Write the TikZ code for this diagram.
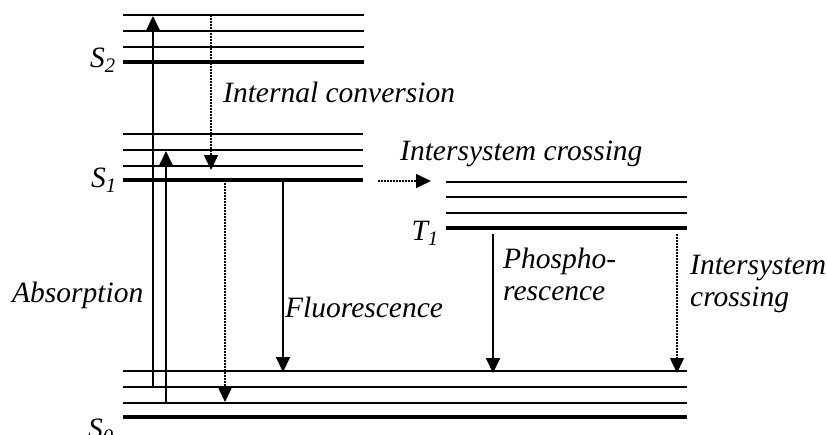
\documentclass[tikz,border=0pt]{standalone}
\usepackage{fontspec}
\setmainfont{Liberation Serif}
\usepackage{tikz}
\usetikzlibrary{arrows.meta, positioning}

\begin{document}
\begin{tikzpicture}[x=1pt, y=-1pt,
    lbl/.style={font=\itshape\fontsize{29.5}{32}\selectfont, inner sep=0pt},
    thinlvl/.style={line width=2pt},
    thicklvl/.style={line width=4pt},
    trans/.style={line width=2pt, -{Triangle[length=15pt, width=14pt]}},
    nonrad/.style={line width=1.5pt, dash pattern=on 1.5pt off 1.5pt, -{Triangle[length=15pt, width=14pt]}}]
    \useasboundingbox (0,0) rectangle (827,434);

    % Energieniveaus
    \foreach \y in {15, 31, 47} \draw[thinlvl] (123,\y) -- (364,\y);
    \draw[thicklvl] (123,62) -- (364,62);
    \foreach \y in {134, 150, 166} \draw[thinlvl] (123,\y) -- (363,\y);
    \draw[thicklvl] (123,180) -- (363,180);
    \foreach \y in {182, 197, 213} \draw[thinlvl] (446,\y) -- (687,\y);
    \draw[thicklvl] (446,228) -- (687,228);
    \foreach \y in {371, 387, 403} \draw[thinlvl] (123,\y) -- (687,\y);
    \draw[thicklvl] (123,417) -- (687,417);

    % Zustaende
    \node[lbl, anchor=base east] (sTwo) at (116,67) {S\textsubscript{2}};
    \node[lbl, anchor=base east] (sOne) at (117,187) {S\textsubscript{1}};
    \node[lbl, anchor=base east] (tOne) at (439,240) {T\textsubscript{1}};
    \node[lbl, anchor=base east] (sZero) at (114,438) {S\textsubscript{0}};

    % Endpunkte der Uebergaenge
    \coordinate (absLongA) at (153,387);
    \coordinate (absLongB) at (153,16);
    \coordinate (absShortA) at (166,403);
    \coordinate (absShortB) at (166,151);
    \coordinate (icA) at (211,15);
    \coordinate (icB) at (211,170);
    \coordinate (vrA) at (225,180);
    \coordinate (vrB) at (225,402);
    \coordinate (flA) at (283,180);
    \coordinate (flB) at (283,372);
    \coordinate (iscA) at (378,181);
    \coordinate (iscB) at (431,181);
    \coordinate (phA) at (493,234);
    \coordinate (phB) at (493,373);
    \coordinate (iscTA) at (677,234);
    \coordinate (iscTB) at (677,373);

    % Uebergaenge
    \draw[trans] (absLongA) -- (absLongB);
    \draw[trans] (absShortA) -- (absShortB);
    \draw[nonrad] (icA) -- (icB);
    \draw[nonrad] (vrA) -- (vrB);
    \draw[trans] (flA) -- (flB);
    \draw[nonrad] (iscA) -- (iscB);
    \draw[trans] (phA) -- (phB);
    \draw[nonrad] (iscTA) -- (iscTB);

    % Beschriftungen (zweizeilig: base = letzte Zeile)
    \node[lbl, anchor=base west] (icLbl) at (223,102) {Internal conversion};
    \node[lbl, anchor=base west] (iscLbl) at (400,160) {Intersystem crossing};
    \node[lbl, anchor=base west] (absLbl) at (12,302) {Absorption};
    \node[lbl, anchor=base west] (flLbl) at (285,317) {Fluorescence};
    \node[lbl, anchor=base west, align=left] (phLbl) at (503,300) {Phospho-\\rescence};
    \node[lbl, anchor=base west, align=left] (iscTLbl) at (690,306) {Intersystem\\crossing};
\end{tikzpicture}
\end{document}
